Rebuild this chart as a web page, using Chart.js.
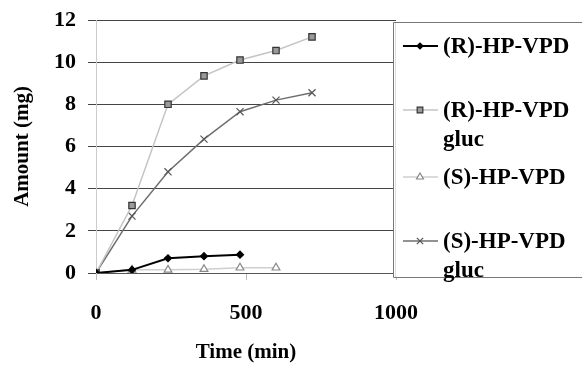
<!DOCTYPE html>
<html>
<head>
<meta charset="utf-8">
<script src="https://cdn.jsdelivr.net/npm/chart.js@4.4.1/dist/chart.umd.min.js"></script>
<style>
  html, body { margin: 0; padding: 0; background: #fff; }
  #wrap { width: 582px; height: 367px; position: relative; }
</style>
</head>
<body>
<div id="wrap"><canvas id="chart"></canvas></div>
<script>
// time points (min)
const times = [0, 120, 240, 360, 480, 600, 720];
// amounts (mg)
const rVpd = [0, 0.15, 0.7, 0.8, 0.87];
const rGluc = [0, 3.2, 8.0, 9.35, 10.1, 10.55, 11.2];
const sVpd = [0, 0.15, 0.15, 0.18, 0.25, 0.25];
const sGluc = [0, 2.7, 4.8, 6.35, 7.65, 8.2, 8.55];
const seriesNames = [["(R)-HP-VPD"], ["(R)-HP-VPD", "gluc"], ["(S)-HP-VPD"], ["(S)-HP-VPD", "gluc"]];
const xTicks = [0, 500, 1000];
const yTicks = [0, 2, 4, 6, 8, 10, 12];

const FONT = "'Liberation Serif', 'Times New Roman', serif";

function pts(vals) {
  return vals.map((v, i) => ({ x: times[i], y: v }));
}

const styles = [
  { line: '#000', fill: '#000', stroke: '#000', pt: 'rectRot', r: 3.5 },
  { line: '#c4c4c4', fill: '#9a9a9a', stroke: '#333', pt: 'rect', r: 4.5 },
  { line: '#cfcfcf', fill: '#fff', stroke: '#888', pt: 'triangle', r: 4.5 },
  { line: '#6e6e6e', fill: '#555', stroke: '#555', pt: 'crossRot', r: 5 }
];

const allData = [rVpd, rGluc, sVpd, sGluc];

// legend box on the right, drawn over the plot
const boxLegend = {
  id: 'boxLegend',
  afterDraw(chart) {
    const { ctx } = chart;
    const left = 393, top = 22, bottom = 277, right = 590;
    ctx.save();
    ctx.fillStyle = '#fff';
    ctx.fillRect(left, top, right - left, bottom - top);
    ctx.strokeStyle = '#777';
    ctx.lineWidth = 1;
    ctx.beginPath();
    ctx.moveTo(right, top + 0.5);
    ctx.lineTo(left + 0.5, top + 0.5);
    ctx.lineTo(left + 0.5, bottom + 0.5);
    ctx.lineTo(right, bottom + 0.5);
    ctx.stroke();
    ctx.strokeStyle = '#ddd';
    ctx.beginPath();
    ctx.moveTo(left + 2.5, top + 1);
    ctx.lineTo(left + 2.5, bottom);
    ctx.stroke();

    const rows = [46, 110, 177, 241];
    ctx.font = "bold 23px " + FONT;
    ctx.textBaseline = 'middle';
    rows.forEach((yy, i) => {
      const s = styles[i];
      ctx.strokeStyle = s.line;
      ctx.lineWidth = i === 0 ? 2 : 1.5;
      ctx.beginPath();
      ctx.moveTo(403, yy);
      ctx.lineTo(438, yy);
      ctx.stroke();
      ctx.fillStyle = s.fill;
      ctx.strokeStyle = s.stroke;
      ctx.lineWidth = 1.2;
      Chart.helpers.drawPoint(ctx, { pointStyle: s.pt, radius: s.r - 0.5, borderWidth: 1.2 }, 420, yy);
      ctx.fillStyle = '#000';
      seriesNames[i].forEach((t, k) => {
        ctx.fillText(t, 443, yy + 1 + k * 29);
      });
    });
    ctx.restore();
  }
};

const datasets = allData.map((vals, i) => ({
  label: seriesNames[i].join(' '),
  data: pts(vals),
  showLine: true,
  borderColor: styles[i].line,
  borderWidth: i === 0 ? 2 : 1.5,
  pointStyle: styles[i].pt,
  pointRadius: styles[i].r,
  pointBackgroundColor: styles[i].fill,
  pointBorderColor: styles[i].stroke,
  pointBorderWidth: 1.2,
  tension: 0
}));

new Chart(document.getElementById('chart'), {
  type: 'scatter',
  data: { datasets },
  options: {
    responsive: true,
    maintainAspectRatio: false,
    animation: false,
    layout: { padding: { top: 20, right: 186, bottom: 0, left: 0 } },
    plugins: { legend: { display: false }, tooltip: { enabled: false } },
    scales: {
      x: {
        type: 'linear',
        min: 0, max: 1000,
        afterFit(scale) { scale.height = 94; scale.paddingLeft = 0; scale.paddingRight = 0; },
        afterBuildTicks(scale) { scale.ticks = xTicks.map(v => ({ value: v })); },
        grid: { drawOnChartArea: false, tickLength: 7, color: '#bbb' },
        border: { color: '#555' },
        ticks: {
          padding: 20, color: '#000',
          font: { family: FONT, size: 22, weight: 'bold' },
          callback: v => String(v)
        },
        title: {
          display: true, text: 'Time (min)', color: '#000',
          font: { family: FONT, size: 21, weight: 'bold' },
          padding: { top: 0, bottom: 2 }
        }
      },
      y: {
        min: 0, max: 12,
        afterFit(scale) { scale.width = 96; scale.paddingTop = 0; scale.paddingBottom = 0; },
        afterBuildTicks(scale) { scale.ticks = yTicks.map(v => ({ value: v })); },
        grid: { color: '#444', lineWidth: 1, tickLength: 8 },
        border: { color: '#ccc' },
        ticks: { padding: 12, color: '#000', font: { family: FONT, size: 22, weight: 'bold' } },
        title: {
          display: true, text: 'Amount (mg)', color: '#000',
          font: { family: FONT, size: 21, weight: 'bold' },
          padding: { top: 10, bottom: 0 }
        }
      }
    }
  },
  plugins: [boxLegend]
});
</script>
</body>
</html>
